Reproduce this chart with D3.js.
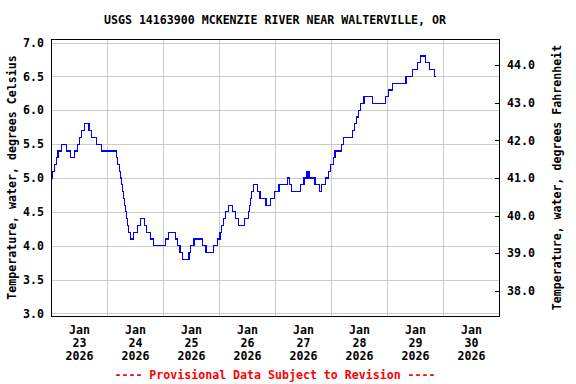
<!DOCTYPE html>
<html>
<head>
<meta charset="utf-8">
<script src="https://cdn.jsdelivr.net/npm/d3@7"></script>
<style>
    body { margin: 0; background: #fff; }
    text { font-family: "DejaVu Sans Mono", "Liberation Mono", monospace; font-weight: bold; font-size: 11.6px; }
</style>
</head>
<body>
<div id="chart"></div>
<script>
// hours since Jan 23 2026 00:00 when each reading starts
const hours = [0, 0.6, 1.4, 2.2, 3.0, 4.6, 6.6, 8.4, 10.2, 11.5, 12.2, 13.1, 14.3, 16.3, 17.3, 19.6, 21.6,
    28.0, 28.6, 29.2, 29.8, 30.3, 30.7, 31.1, 31.5, 32.0, 32.4, 32.8, 33.3, 33.9, 35.3, 37.0, 38.4,
    40.0, 40.8, 42.6, 43.8, 48.9, 50.3, 53.4, 54.2, 55.3, 56.3, 59.1, 59.9, 61.3, 64.8, 66.4, 69.6,
    71.3, 72.4, 73.2, 73.9, 74.9, 76.0, 77.7, 78.9, 80.3, 82.8, 84.5, 85.0, 85.6, 86.0, 86.7, 88.4,
    89.6, 92.1, 94.1, 95.7, 97.7, 100.3, 101.4, 102.3, 103.1, 107.0, 108.4, 109.7, 110.6, 113.1, 115.0,
    115.8, 117.5, 118.9, 119.9, 121.0, 121.7, 124.4, 125.3, 129.1, 130.0, 130.8, 131.7, 132.6, 134.1,
    137.9, 143.4, 144.6, 146.3, 152.1, 154.8, 157.2, 158.3, 160.6, 162.3, 164.3, 164.9]

const tempC = [5.0, 5.1, 5.2, 5.3, 5.4, 5.5, 5.4, 5.3, 5.4, 5.5, 5.6, 5.7, 5.8, 5.7, 5.6, 5.5, 5.4,
    5.3, 5.2, 5.1, 5.0, 4.9, 4.8, 4.7, 4.6, 4.5, 4.4, 4.3, 4.2, 4.1, 4.2, 4.3, 4.4,
    4.3, 4.2, 4.1, 4.0, 4.1, 4.2, 4.1, 4.0, 3.9, 3.8, 3.9, 4.0, 4.1, 4.0, 3.9, 4.0,
    4.1, 4.2, 4.3, 4.4, 4.5, 4.6, 4.5, 4.4, 4.3, 4.4, 4.5, 4.6, 4.7, 4.8, 4.9, 4.8,
    4.7, 4.6, 4.7, 4.8, 4.9, 4.9, 5.0, 4.9, 4.8, 4.9, 5.0, 5.1, 5.0, 4.9, 4.8,
    4.9, 5.0, 5.1, 5.2, 5.3, 5.4, 5.5, 5.6, 5.7, 5.8, 5.9, 6.0, 6.1, 6.2,
    6.1, 6.2, 6.3, 6.4, 6.5, 6.6, 6.7, 6.8, 6.7, 6.6, 6.5, 6.5]

const days = ["2026-01-23", "2026-01-24", "2026-01-25", "2026-01-26", "2026-01-27", "2026-01-28", "2026-01-29", "2026-01-30"]
const celsiusTicks = [3.0, 3.5, 4.0, 4.5, 5.0, 5.5, 6.0, 6.5, 7.0]
const fahrenheitTicks = [38, 39, 40, 41, 42, 43, 44]

const title = "USGS 14163900 MCKENZIE RIVER NEAR WALTERVILLE, OR"
const leftLabel = "Temperature, water, degrees Celsius"
const rightLabel = "Temperature, water, degrees Fahrenheit"
const footer = "---- Provisional Data Subject to Revision ----"

const margin = { top: 39, right: 77, bottom: 68, left: 51 }
const width = 576 - margin.left - margin.right
const height = 384 - margin.top - margin.bottom

const start = new Date(Date.UTC(2026, 0, 23))
const end = new Date(Date.UTC(2026, 0, 31))

const data = hours.map((h, i) => ({ date: new Date(start.getTime() + h * 3600000), value: tempC[i] }))

const svg = d3.select("#chart").append("svg")
    .attr("width", 576)
    .attr("height", 384)

const g = svg.append("g")
    .attr("transform", "translate(" + margin.left + "," + margin.top + ")")

// scales
const x = d3.scaleUtc().domain([start, end]).range([0, width])
const y = d3.scaleLinear().domain([2.963, 7.052]).range([height, 0])
const toF = c => c * 9 / 5 + 32
const yF = d3.scaleLinear().domain(y.domain().map(toF)).range([height, 0])

// horizontal grid + left labels
const yAxis = g.append("g")
    .call(d3.axisLeft(y).tickValues(celsiusTicks).tickSize(-width).tickFormat(d3.format(".1f")).tickPadding(7))
yAxis.select(".domain").remove()
yAxis.selectAll("line").attr("stroke", "#cccccc").attr("shape-rendering", "crispEdges")
yAxis.selectAll("text").attr("fill", "#000")

// vertical grid at midnights
const xGrid = g.append("g")
    .attr("transform", "translate(0," + height + ")")
    .call(d3.axisBottom(x).tickValues(d3.utcDay.range(d3.utcDay.offset(start, 1), end)).tickSize(-height).tickFormat(""))
xGrid.select(".domain").remove()
xGrid.selectAll("line").attr("stroke", "#cccccc").attr("shape-rendering", "crispEdges")

// day labels at noon
const xLabels = g.append("g")
    .attr("transform", "translate(0," + height + ")")
    .call(d3.axisBottom(x).tickValues(days.map(d => d3.utcHour.offset(new Date(d + "T00:00:00Z"), 12))).tickSize(0).tickFormat(""))
xLabels.select(".domain").remove()
xLabels.selectAll(".tick").each(function(d) {
    let t = d3.select(this).append("text")
        .attr("fill", "#000")
        .attr("text-anchor", "middle")
    t.append("tspan").attr("x", 0).attr("y", 18).text(d3.utcFormat("%b")(d))
    t.append("tspan").attr("x", 0).attr("y", 31).text(d3.utcFormat("%-d")(d))
    t.append("tspan").attr("x", 0).attr("y", 44).text(d3.utcFormat("%Y")(d))
})

// right Fahrenheit axis
const rAxis = g.append("g")
    .attr("transform", "translate(" + width + ",0)")
    .call(d3.axisRight(yF).tickValues(fahrenheitTicks).tickSizeInner(-4).tickSizeOuter(0).tickPadding(8).tickFormat(d3.format(".1f")))
rAxis.select(".domain").remove()
rAxis.selectAll("line").attr("stroke", "#000").attr("shape-rendering", "crispEdges")
rAxis.selectAll("text").attr("fill", "#000")

// data line
g.append("path")
    .datum(data)
    .attr("fill", "none")
    .attr("stroke", "#0000ff")
    .attr("stroke-width", 1.2)
    .attr("shape-rendering", "crispEdges")
    .attr("d", d3.line().x(d => x(d.date)).y(d => y(d.value)).curve(d3.curveStepAfter))

// frame
g.append("rect")
    .attr("x", 0).attr("y", 0)
    .attr("width", width).attr("height", height)
    .attr("fill", "none")
    .attr("stroke", "#000")
    .attr("stroke-width", 1)
    .attr("shape-rendering", "crispEdges")

// texts
svg.append("text")
    .attr("x", margin.left + width / 2).attr("y", 24)
    .attr("text-anchor", "middle")
    .text(title)

svg.append("text")
    .attr("transform", "translate(16," + (margin.top + height / 2) + ") rotate(-90)")
    .attr("text-anchor", "middle")
    .text(leftLabel)

svg.append("text")
    .attr("transform", "translate(561," + (margin.top + height / 2) + ") rotate(-90)")
    .attr("text-anchor", "middle")
    .text(rightLabel)

svg.append("text")
    .attr("x", margin.left + width / 2).attr("y", 379)
    .attr("text-anchor", "middle")
    .attr("fill", "#ff0000")
    .text(footer)
</script>
</body>
</html>
